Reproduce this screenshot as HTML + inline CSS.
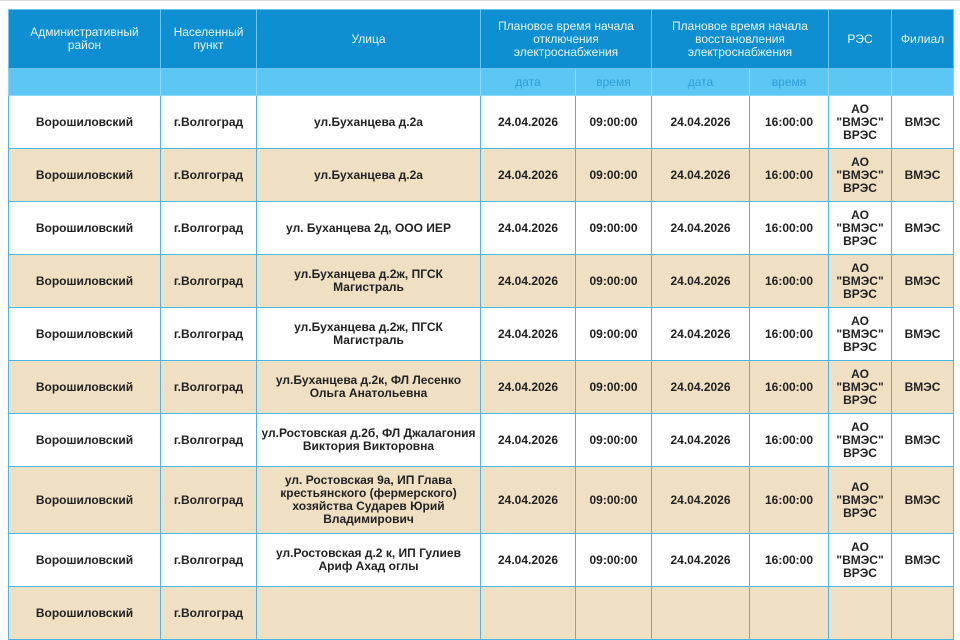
<!DOCTYPE html>
<html><head><meta charset="utf-8"><style>
body{margin:0;background:#fff;width:960px;height:589px;overflow:hidden;font-family:"Liberation Sans","DejaVu Sans",sans-serif}
.top{position:absolute;left:0;top:0;width:960px;height:2px;border-top:1px solid #ddd}
table{position:absolute;left:8px;top:9px;border-collapse:collapse;table-layout:fixed;width:945px}
td,th{border:1px solid #4cb6e6;text-align:center;vertical-align:middle;padding:0 3px;font-size:12px;line-height:13px}
th{background:#0d8fd1;color:#e8f6ff;font-weight:normal;height:58px;border-color:#6cc5ef}
.sub td{background:#5cc7f3;color:#2f9fd6;height:26px;font-weight:normal;border-color:#8dd6f5}
tbody td{font-weight:bold;color:#222;height:52px}
tbody tr.b td{background:#efdfc3}
tbody tr.t td{height:66px}
</style></head><body><div class="top"></div>
<table>
<colgroup><col style="width:152px"><col style="width:96px"><col style="width:224px"><col style="width:95px"><col style="width:76px"><col style="width:98px"><col style="width:79px"><col style="width:63px"><col style="width:62px"></colgroup>
<thead>
<tr><th>Административный район</th><th>Населенный пункт</th><th>Улица</th><th colspan="2">Плановое время начала отключения электроснабжения</th><th colspan="2">Плановое время начала восстановления электроснабжения</th><th>РЭС</th><th>Филиал</th></tr>
<tr class="sub"><td></td><td></td><td></td><td>дата</td><td>время</td><td>дата</td><td>время</td><td></td><td></td></tr>
</thead>
<tbody>
<tr><td>Ворошиловский</td><td>г.Волгоград</td><td>ул.Буханцева д.2а</td><td>24.04.2026</td><td>09:00:00</td><td>24.04.2026</td><td>16:00:00</td><td>АО "ВМЭС" ВРЭС</td><td>ВМЭС</td></tr>
<tr class="b"><td>Ворошиловский</td><td>г.Волгоград</td><td>ул.Буханцева д.2а</td><td>24.04.2026</td><td>09:00:00</td><td>24.04.2026</td><td>16:00:00</td><td>АО "ВМЭС" ВРЭС</td><td>ВМЭС</td></tr>
<tr><td>Ворошиловский</td><td>г.Волгоград</td><td>ул. Буханцева 2д, ООО ИЕР</td><td>24.04.2026</td><td>09:00:00</td><td>24.04.2026</td><td>16:00:00</td><td>АО "ВМЭС" ВРЭС</td><td>ВМЭС</td></tr>
<tr class="b"><td>Ворошиловский</td><td>г.Волгоград</td><td>ул.Буханцева д.2ж, ПГСК Магистраль</td><td>24.04.2026</td><td>09:00:00</td><td>24.04.2026</td><td>16:00:00</td><td>АО "ВМЭС" ВРЭС</td><td>ВМЭС</td></tr>
<tr><td>Ворошиловский</td><td>г.Волгоград</td><td>ул.Буханцева д.2ж, ПГСК Магистраль</td><td>24.04.2026</td><td>09:00:00</td><td>24.04.2026</td><td>16:00:00</td><td>АО "ВМЭС" ВРЭС</td><td>ВМЭС</td></tr>
<tr class="b"><td>Ворошиловский</td><td>г.Волгоград</td><td>ул.Буханцева д.2к, ФЛ Лесенко Ольга Анатольевна</td><td>24.04.2026</td><td>09:00:00</td><td>24.04.2026</td><td>16:00:00</td><td>АО "ВМЭС" ВРЭС</td><td>ВМЭС</td></tr>
<tr><td>Ворошиловский</td><td>г.Волгоград</td><td>ул.Ростовская д.2б, ФЛ Джалагония Виктория Викторовна</td><td>24.04.2026</td><td>09:00:00</td><td>24.04.2026</td><td>16:00:00</td><td>АО "ВМЭС" ВРЭС</td><td>ВМЭС</td></tr>
<tr class="b t"><td>Ворошиловский</td><td>г.Волгоград</td><td>ул. Ростовская 9а, ИП Глава крестьянского (фермерского) хозяйства Сударев Юрий Владимирович</td><td>24.04.2026</td><td>09:00:00</td><td>24.04.2026</td><td>16:00:00</td><td>АО "ВМЭС" ВРЭС</td><td>ВМЭС</td></tr>
<tr><td>Ворошиловский</td><td>г.Волгоград</td><td>ул.Ростовская д.2 к, ИП Гулиев Ариф Ахад оглы</td><td>24.04.2026</td><td>09:00:00</td><td>24.04.2026</td><td>16:00:00</td><td>АО "ВМЭС" ВРЭС</td><td>ВМЭС</td></tr>
<tr class="b"><td>Ворошиловский</td><td>г.Волгоград</td><td></td><td></td><td></td><td></td><td></td><td></td><td></td></tr>
</tbody></table></body></html>
